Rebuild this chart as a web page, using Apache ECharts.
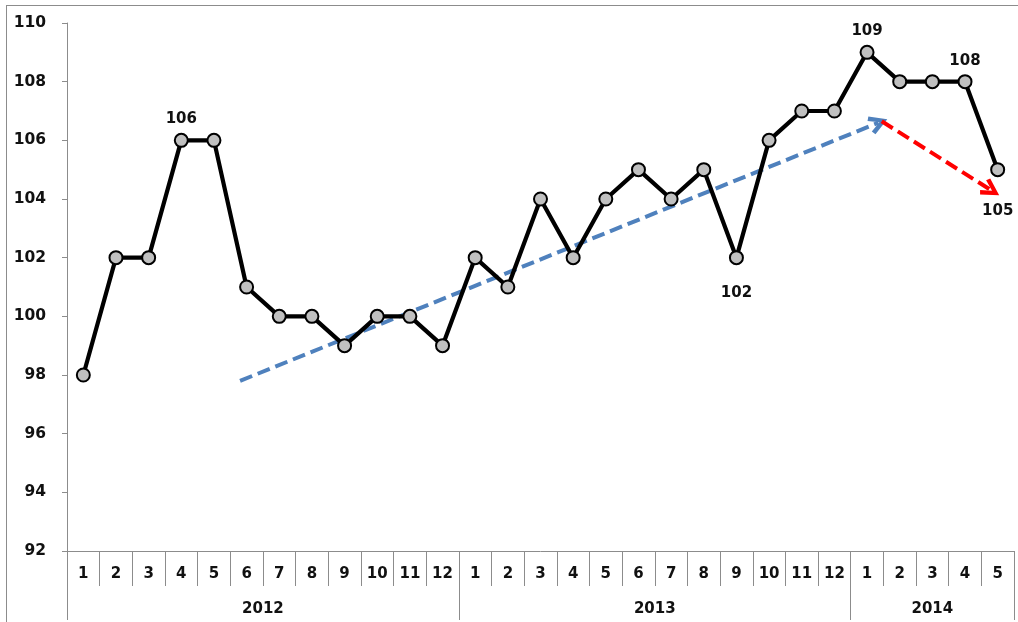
<!DOCTYPE html>
<html>
<head>
<meta charset="utf-8">
<script src="https://cdn.jsdelivr.net/npm/echarts@6/dist/echarts.min.js"></script>
<style>
  html, body { margin: 0; padding: 0; background: #fff; }
  #frame { position: absolute; left: 6px; top: 5px; width: 1012px; height: 617px;
           border-top: 1px solid #8c8c8c; border-left: 1px solid #8c8c8c; box-sizing: border-box; }
  #chart { position: absolute; left: 0; top: 0; width: 1018px; height: 622px; }
</style>
</head>
<body>
<div id="frame"></div>
<div id="chart"></div>
<script>
// Monthly index, Jan 2012 – May 2014
const months = ['1','2','3','4','5','6','7','8','9','10','11','12',
                '1','2','3','4','5','6','7','8','9','10','11','12',
                '1','2','3','4','5'];
const values = [98, 102, 102, 106, 106, 101, 100, 100, 99, 100, 100, 99,
                102, 101, 104, 102, 104, 105, 104, 105, 102, 106, 107, 107,
                109, 108, 108, 108, 105];
// Year groups: label, first month index, number of months
const years = ['2012', '2013', '2014'];
const yearStart = [0, 12, 24];
const yearLength = [12, 12, 5];
// Which points carry a value label and where it goes
const labelTop = [3, 24, 27];
const labelBottom = [20, 28];
// Trend arrows, in (month position, index value); month position counts from the axis start
const trendUp = [[5.3, 97.8], [24.85, 106.6]];
const trendDown = [[24.95, 106.65], [28.3, 104.3]];

const yTicks = { min: 92, max: 110, step: 2 };

const FONT = 'DejaVu Sans';
// Open chevron used as arrow head (points up; markLine rotates it along the line)
const chevron = 'path://M0,11 L6,0 L12,11 L9.6,12.6 L6,5.6 L2.4,12.6 Z';

const lastIndex = values.length - 1;
const seriesData = values.map((v, i) => {
  const item = { value: v };
  if (labelTop.includes(i)) item.label = { show: true, position: 'top', distance: 6 };
  else if (labelBottom.includes(i)) {
    item.label = { show: true, position: 'bottom', distance: i === lastIndex ? 26 : 20 };
  }
  return item;
});

const totalMonths = months.length;
const yearBounds = yearStart.concat([yearStart[2] + yearLength[2]]);
const yearCenters = yearStart.map((s, i) => s + yearLength[i] / 2);

const chart = echarts.init(document.getElementById('chart'), null, { renderer: 'canvas' });
chart.setOption({
  animation: false,
  textStyle: { fontFamily: FONT },
  grid: { left: 67, right: 4, top: 23, bottom: 71, containLabel: false },
  xAxis: [
    {
      type: 'category',
      data: months,
      boundaryGap: true,
      axisLine: { show: true, lineStyle: { color: '#8c8c8c', width: 1 } },
      axisTick: { show: true, interval: 0, length: 35, lineStyle: { color: '#8c8c8c' } },
      axisLabel: { interval: 0, margin: 16, color: '#111', fontWeight: 'bold', fontSize: 15, fontFamily: FONT },
      splitLine: { show: false }
    },
    {
      type: 'value',
      position: 'bottom',
      min: 0,
      max: totalMonths,
      axisLine: { show: false },
      axisTick: { show: true, length: 69, customValues: yearBounds, lineStyle: { color: '#8c8c8c' } },
      axisLabel: {
        show: true, margin: 51, customValues: yearCenters,
        color: '#111', fontWeight: 'bold', fontSize: 15, fontFamily: FONT,
        formatter: v => years[yearCenters.indexOf(v)] || ''
      },
      splitLine: { show: false }
    }
  ],
  yAxis: {
    type: 'value',
    min: yTicks.min,
    max: yTicks.max,
    interval: yTicks.step,
    axisLine: { show: true, lineStyle: { color: '#8c8c8c', width: 1 } },
    axisTick: { show: true, inside: false, length: 5, lineStyle: { color: '#8c8c8c' } },
    axisLabel: { margin: 21, color: '#111', fontWeight: 'bold', fontSize: 15.5, fontFamily: FONT },
    splitLine: { show: false }
  },
  series: [
    {
      type: 'line',
      xAxisIndex: 1,
      data: [],
      silent: true,
      markLine: {
        silent: true,
        symbol: ['none', chevron],
        symbolSize: [19, 19],
        label: { show: false },
        data: [
          [ { coord: trendUp[0], lineStyle: { color: '#4f81bd', width: 4, type: [13, 6] }, itemStyle: { color: '#4f81bd' } },
            { coord: trendUp[1] } ],
          [ { coord: trendDown[0], lineStyle: { color: '#ff0000', width: 4, type: [13, 6] }, itemStyle: { color: '#ff0000' } },
            { coord: trendDown[1] } ]
        ]
      }
    },
    {
      type: 'line',
      xAxisIndex: 0,
      data: seriesData,
      z: 5,
      lineStyle: { color: '#000', width: 4.2 },
      symbol: 'circle',
      symbolSize: 13,
      itemStyle: { color: '#c0c0c0', borderColor: '#000', borderWidth: 2 },
      label: { show: false, color: '#111', fontWeight: 'bold', fontSize: 15, fontFamily: FONT },
      emphasis: { disabled: true }
    }
  ]
});
</script>
</body>
</html>
